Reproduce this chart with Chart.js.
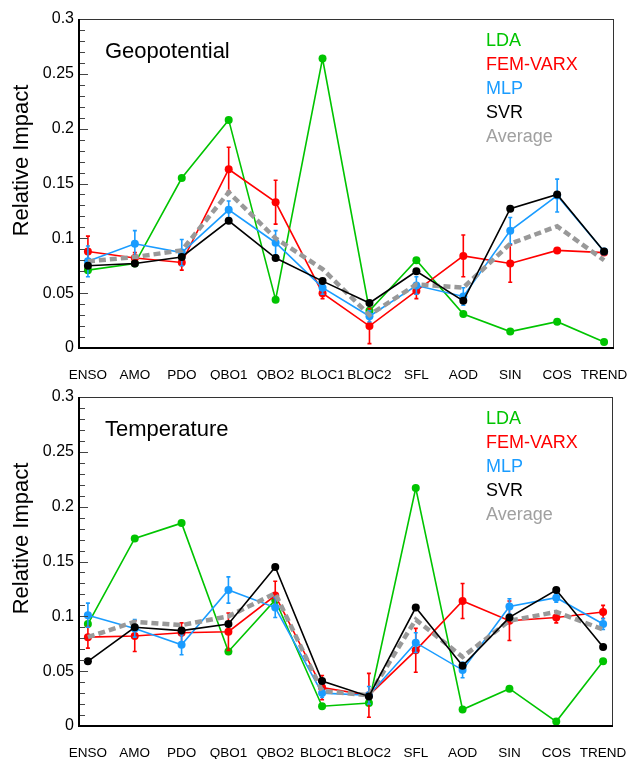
<!DOCTYPE html>
<html>
<head>
<meta charset="utf-8">
<style>
  body { margin: 0; background: #fff; }
  canvas { display: block; }
</style>
</head>
<body>
<canvas id="geo_chart" width="636" height="380"></canvas>
<canvas id="temp_chart" width="636" height="379"></canvas>

<script src="https://cdn.jsdelivr.net/npm/chart.js"></script>
<script>
    const labels = ['ENSO', 'AMO', 'PDO', 'QBO1', 'QBO2', 'BLOC1', 'BLOC2', 'SFL', 'AOD', 'SIN', 'COS', 'TREND'];
    const yTicks = [0, 0.05, 0.1, 0.15, 0.2, 0.25, 0.3];

    // Geopotential
    const geoLDA = [0.071, 0.077, 0.155, 0.208, 0.044, 0.264, 0.034, 0.080, 0.031, 0.015, 0.024, 0.0055];
    const geoFEM = [0.088, 0.082, 0.078, 0.163, 0.133, 0.050, 0.020, 0.052, 0.084, 0.077, 0.089, 0.087];
    const geoFEMErr = [0.014, 0.005, 0.007, 0.020, 0.020, 0.005, 0.016, 0.007, 0.019, 0.017, 0.002, 0.002];
    const geoMLP = [0.079, 0.095, 0.087, 0.126, 0.096, 0.055, 0.029, 0.057, 0.047, 0.107, 0.139, 0.088];
    const geoMLPErr = [0.014, 0.012, 0.012, 0.008, 0.011, 0.006, 0.005, 0.008, 0.008, 0.012, 0.015, 0.002];
    const geoSVR = [0.075, 0.077, 0.083, 0.116, 0.082, 0.061, 0.041, 0.070, 0.043, 0.127, 0.140, 0.088];
    const geoAvg = [0.079, 0.083, 0.089, 0.142, 0.100, 0.072, 0.030, 0.058, 0.055, 0.095, 0.111, 0.080];

    // Temperature
    const tempLDA = [0.093, 0.171, 0.185, 0.068, 0.115, 0.018, 0.021, 0.217, 0.015, 0.034, 0.004, 0.059];
    const tempFEM = [0.081, 0.082, 0.085, 0.086, 0.119, 0.035, 0.028, 0.069, 0.114, 0.096, 0.099, 0.104];
    const tempFEMErr = [0.010, 0.014, 0.009, 0.017, 0.013, 0.011, 0.020, 0.020, 0.016, 0.018, 0.005, 0.006];
    const tempMLP = [0.101, 0.089, 0.074, 0.124, 0.108, 0.030, 0.028, 0.076, 0.051, 0.109, 0.117, 0.093];
    const tempMLPErr = [0.011, 0.008, 0.009, 0.012, 0.009, 0.004, 0.008, 0.009, 0.007, 0.007, 0.004, 0.005];
    const tempSVR = [0.059, 0.090, 0.087, 0.093, 0.145, 0.041, 0.027, 0.108, 0.055, 0.099, 0.124, 0.072];
    const tempAvg = [0.081, 0.095, 0.092, 0.100, 0.121, 0.032, 0.028, 0.097, 0.063, 0.096, 0.104, 0.088];

    const GREEN = '#00c400', RED = '#ff0000', BLUE = '#1a9cff', BLACK = '#000000', GREY = '#a0a0a0';
    const FONT = '"Liberation Sans", Arial, sans-serif';

    function pts(arr) {
        return arr.map((v, i) => ({x: i, y: v}));
    }

    // draws error bars of a dataset just before the dataset itself, so markers sit on top
    const errorBars = {
        id: 'errorBars',
        beforeDatasetDraw(chart, args) {
            const ds = chart.data.datasets[args.index];
            if (!ds.errors) return;
            const ctx = chart.ctx, xs = chart.scales.x, ys = chart.scales.y;
            ctx.save();
            ctx.strokeStyle = ds.borderColor;
            ctx.lineWidth = 1.6;
            ds.data.forEach((p, i) => {
                const x = xs.getPixelForValue(p.x);
                const y1 = ys.getPixelForValue(p.y - ds.errors[i]);
                const y2 = ys.getPixelForValue(p.y + ds.errors[i]);
                ctx.beginPath();
                ctx.moveTo(x, y1); ctx.lineTo(x, y2);
                ctx.moveTo(x - 2, y1); ctx.lineTo(x + 2, y1);
                ctx.moveTo(x - 2, y2); ctx.lineTo(x + 2, y2);
                ctx.stroke();
            });
            ctx.restore();
        }
    };

    // frame, inner y ticks, panel title, y title and coloured legend text
    const decorations = {
        id: 'decorations',
        afterDraw(chart, args, opts) {
            const ctx = chart.ctx, a = chart.chartArea, ys = chart.scales.y;
            ctx.save();
            // ticks inside the frame
            ctx.strokeStyle = '#444';
            ctx.lineWidth = 1;
            for (let k = 0; k <= 30; k++) {
                const y = Math.round(ys.getPixelForValue(k / 100)) + 0.5;
                const len = (k % 5 === 0) ? 9 : 6;
                ctx.beginPath();
                ctx.moveTo(a.left, y); ctx.lineTo(a.left + len, y);
                ctx.stroke();
            }
            // frame
            ctx.strokeStyle = '#333';
            ctx.lineWidth = 1;
            ctx.strokeRect(a.left + 0.5, a.top + 0.5, a.right - a.left, a.bottom - a.top);
            ctx.strokeStyle = '#000';
            ctx.lineWidth = 2;
            ctx.beginPath();
            ctx.moveTo(a.left, a.top);
            ctx.lineTo(a.left, a.bottom);
            ctx.lineTo(a.right + 1, a.bottom);
            ctx.stroke();

            // panel title
            ctx.fillStyle = '#000';
            ctx.font = '22px ' + FONT;
            ctx.textBaseline = 'alphabetic';
            ctx.textAlign = 'left';
            ctx.fillText(opts.title, a.left + 26, a.top + 39);

            // y title
            ctx.save();
            ctx.translate(22, (a.top + a.bottom) / 2 - 23);
            ctx.rotate(-Math.PI / 2);
            ctx.textAlign = 'center';
            ctx.textBaseline = 'middle';
            ctx.font = '22px ' + FONT;
            ctx.fillText('Relative Impact', 0, 0);
            ctx.restore();

            // legend
            ctx.font = '18px ' + FONT;
            ctx.textBaseline = 'middle';
            const order = ['LDA', 'FEM-VARX', 'MLP', 'SVR', 'Average'];
            order.forEach((name, i) => {
                const ds = chart.data.datasets.find(d => d.label === name);
                ctx.fillStyle = name === 'Average' ? GREY : ds.borderColor;
                ctx.fillText(name, 486, a.top + 22 + i * 24);
            });
            ctx.restore();
        }
    };

    function makeChart(id, title, lda, fem, femErr, mlp, mlpErr, svr, avg, padRight) {
        const line = (label, data, color, extra) => Object.assign({
            label: label,
            data: pts(data),
            borderColor: color,
            backgroundColor: color,
            borderWidth: 1.6,
            pointRadius: 4,
            pointBorderWidth: 0,
            pointHoverRadius: 4,
            tension: 0,
        }, extra || {});

        return new Chart(document.getElementById(id), {
            type: 'line',
            data: {
                datasets: [
                    line('SVR', svr, BLACK),
                    line('Average', avg, '#999999', {borderWidth: 4.5, borderDash: [7, 4], pointRadius: 0}),
                    line('MLP', mlp, BLUE, {errors: mlpErr}),
                    line('FEM-VARX', fem, RED, {errors: femErr}),
                    line('LDA', lda, GREEN),
                ]
            },
            options: {
                responsive: false,
                animation: false,
                devicePixelRatio: 1,
                layout: {
                    padding: {left: 0, top: id === 'geo_chart' ? 19 : 17, right: padRight, bottom: 0}
                },
                plugins: {
                    legend: {display: false},
                    tooltip: {enabled: false},
                    decorations: {title: title}
                },
                scales: {
                    x: {
                        type: 'linear',
                        min: -0.19,
                        max: 11.19,
                        grid: {display: false, drawTicks: false},
                        border: {display: false},
                        afterBuildTicks: s => { s.ticks = labels.map((_, i) => ({value: i})); },
                        afterFit: s => {
                            s.height = id === 'geo_chart' ? 32 : 33;
                            s.paddingLeft = 0;
                            s.paddingRight = 0;
                        },
                        ticks: {
                            autoSkip: false,
                            maxRotation: 0,
                            padding: 19,
                            color: '#000',
                            font: {family: FONT, size: 13.5},
                            callback: v => labels[v]
                        }
                    },
                    y: {
                        min: 0,
                        max: 0.3,
                        grid: {display: false, drawTicks: false},
                        border: {display: false},
                        afterBuildTicks: s => { s.ticks = yTicks.map(v => ({value: v})); },
                        afterFit: s => { s.width = 79; },
                        ticks: {
                            padding: 5,
                            color: '#000',
                            font: {family: FONT, size: 16},
                            callback: v => String(+v.toFixed(2))
                        }
                    }
                }
            },
            plugins: [errorBars, decorations]
        });
    }

    const geo_chart = makeChart('geo_chart', 'Geopotential', geoLDA, geoFEM, geoFEMErr, geoMLP, geoMLPErr, geoSVR, geoAvg, 23);
    const temp_chart = makeChart('temp_chart', 'Temperature', tempLDA, tempFEM, tempFEMErr, tempMLP, tempMLPErr, tempSVR, tempAvg, 24);
</script>
</body>
</html>
